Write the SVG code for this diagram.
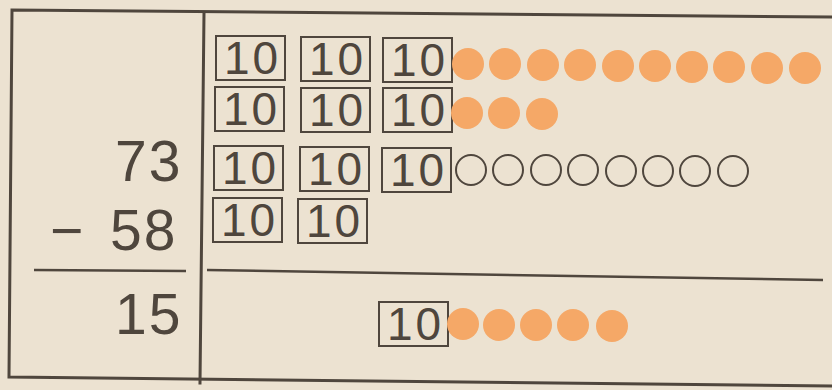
<svg xmlns="http://www.w3.org/2000/svg" width="832" height="390" viewBox="0 0 832 390">
<style>
.frame{stroke:#4f463d;stroke-width:3;fill:none;stroke-linecap:square}
.rule{stroke:#4f463d;stroke-width:2.5;fill:none}
.box{fill:none;stroke:#4f463d;stroke-width:2}
.ten{font-family:"Liberation Sans",Arial,sans-serif;font-size:46px;fill:#4f463d;letter-spacing:3px}
.num{font-family:"Liberation Sans",Arial,sans-serif;font-size:57px;fill:#4f463d;letter-spacing:2px}
.dot{fill:#f5a867}
.ring{fill:none;stroke:#4f463d;stroke-width:2}
</style>
<defs>
<g id="tenblock">
<rect class="box" x="0" y="0" width="69" height="44"/>
<text class="ten" x="8" y="38">10</text>
</g>
</defs>
<rect width="832" height="390" fill="#ece2d1"/>
<g id="frame">
<polyline class="frame" points="832,17 12,10 9,377 832,386"/>
<line class="frame" x1="204" y1="13" x2="200" y2="383"/>
<line class="rule" x1="34" y1="270" x2="186" y2="271"/>
<line class="rule" x1="207" y1="270" x2="823" y2="280"/>
</g>
<g id="numbers">
<text class="num" x="115" y="181">73</text>
<text class="num"><tspan x="50" y="250">−</tspan><tspan x="110" y="250">58</tspan></text>
<text class="num" x="115" y="334">15</text>
</g>
<g id="row1">
<use href="#tenblock" x="216" y="36"/>
<use href="#tenblock" x="301" y="37"/>
<use href="#tenblock" x="383" y="38"/>
<circle class="dot" cx="468" cy="64" r="16"/>
<circle class="dot" cx="505" cy="64" r="16"/>
<circle class="dot" cx="543" cy="65" r="16"/>
<circle class="dot" cx="580" cy="65" r="16"/>
<circle class="dot" cx="618" cy="66" r="16"/>
<circle class="dot" cx="655" cy="66" r="16"/>
<circle class="dot" cx="692" cy="67" r="16"/>
<circle class="dot" cx="729" cy="67" r="16"/>
<circle class="dot" cx="767" cy="68" r="16"/>
<circle class="dot" cx="805" cy="68" r="16"/>
</g>
<g id="row2">
<use href="#tenblock" x="215" y="87"/>
<use href="#tenblock" x="301" y="88"/>
<use href="#tenblock" x="383" y="88"/>
<circle class="dot" cx="467" cy="113" r="16"/>
<circle class="dot" cx="504" cy="113" r="16"/>
<circle class="dot" cx="542" cy="114" r="16"/>
</g>
<g id="row3">
<use href="#tenblock" x="214" y="146"/>
<use href="#tenblock" x="300" y="147"/>
<use href="#tenblock" x="382" y="148"/>
<circle class="ring" cx="471" cy="170" r="15"/>
<circle class="ring" cx="508" cy="170" r="15"/>
<circle class="ring" cx="546" cy="170" r="15"/>
<circle class="ring" cx="583" cy="170" r="15"/>
<circle class="ring" cx="621" cy="171" r="15"/>
<circle class="ring" cx="658" cy="171" r="15"/>
<circle class="ring" cx="695" cy="171" r="15"/>
<circle class="ring" cx="733" cy="171" r="15"/>
</g>
<g id="row4">
<use href="#tenblock" x="213" y="198"/>
<use href="#tenblock" x="298" y="199"/>
</g>
<g id="result">
<use href="#tenblock" x="379" y="302"/>
<circle class="dot" cx="463" cy="324" r="16"/>
<circle class="dot" cx="499" cy="325" r="16"/>
<circle class="dot" cx="536" cy="325" r="16"/>
<circle class="dot" cx="573" cy="325" r="16"/>
<circle class="dot" cx="612" cy="326" r="16"/>
</g>
</svg>
